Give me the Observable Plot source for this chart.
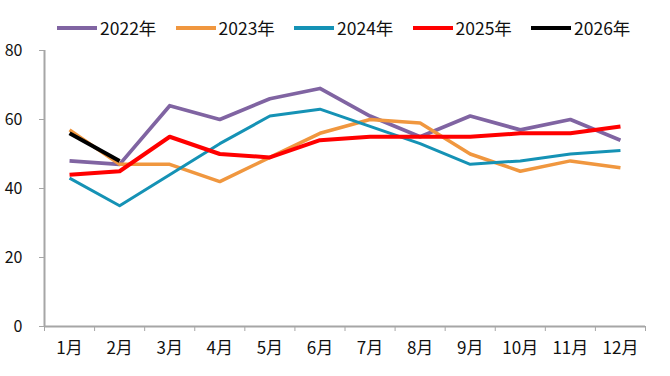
<!DOCTYPE html>
<html><head><meta charset="utf-8">
<script src="https://cdn.jsdelivr.net/npm/d3@7"></script>
<script src="https://cdn.jsdelivr.net/npm/@observablehq/plot@0.6"></script>
<style>
body{margin:0;background:#fff;font-family:"Noto Sans CJK SC",sans-serif;}
#wrap{position:relative;width:670px;height:376px;}
#legend{position:absolute;top:14px;left:57px;display:flex;align-items:center;font-size:17.5px;color:#111;line-height:28px;}
.item{display:flex;align-items:center;width:118.5px;}
.sw{width:40px;height:4px;margin-right:3px;}
svg{position:absolute;left:0;top:0;}
</style></head><body><div id="wrap"><div id="legend"></div></div>
<script>
const months = ["1月","2月","3月","4月","5月","6月","7月","8月","9月","10月","11月","12月"];
const years = ["2022年","2023年","2024年","2025年","2026年"];
const v2022 = [48, 47, 64, 60, 66, 69, 61, 55, 61, 57, 60, 54];
const v2023 = [57, 47, 47, 42, 49, 56, 60, 59, 50, 45, 48, 46];
const v2024 = [43, 35, 44, 53, 61, 63, 58, 53, 47, 48, 50, 51];
const v2025 = [44, 45, 55, 50, 49, 54, 55, 55, 55, 56, 56, 58];
const v2026 = [56, 48];
const yTicks = [0, 20, 40, 60, 80];
const colors = ["#8064A2", "#F0973F", "#1592B5", "#FF0000", "#000000"];
const widths = [3.7, 3.5, 3, 4, 4];

const series = [v2022, v2023, v2024, v2025, v2026];
const data = [];
series.forEach((vals, i) => vals.forEach((v, j) => data.push({year: years[i], m: j + 1, v})));
const centers = months.map((_, i) => i + 1);
const boundaries = months.map((_, i) => i + 0.5).concat([months.length + 0.5]);

const legend = document.getElementById("legend");
years.forEach((y, i) => {
  const it = document.createElement("div"); it.className = "item";
  const sw = document.createElement("div"); sw.className = "sw"; sw.style.background = colors[i];
  const t = document.createElement("span"); t.textContent = y;
  it.appendChild(sw); it.appendChild(t); legend.appendChild(it);
});

const chart = Plot.plot({
  width: 670, height: 376,
  marginLeft: 44, marginRight: 25, marginTop: 50, marginBottom: 50,
  style: {fontFamily: "Noto Sans CJK SC", fontSize: "16px", color: "#111", background: "transparent"},
  x: {domain: [0.5, months.length + 0.5]},
  y: {domain: [0, 80]},
  marks: [
    Plot.axisY({ticks: yTicks, tickSize: 5, tickPadding: 17, stroke: "#a6a6a6", fill: "#111", label: null}),
    Plot.axisX({ticks: boundaries, tickSize: 5, tickFormat: () => "", stroke: "#a6a6a6", label: null}),
    Plot.axisX({ticks: centers, tickSize: 0, tickPadding: 15, tickFormat: d => months[d - 1], fill: "#111", fontSize: 17, label: null}),
    Plot.ruleX([0.5], {stroke: "#a6a6a6", strokeWidth: 2}),
    Plot.ruleY([0], {stroke: "#a6a6a6", strokeWidth: 2}),
    ...years.map((y, i) => Plot.line(data.filter(d => d.year === y), {x: "m", y: "v", stroke: colors[i], strokeWidth: widths[i], strokeLinecap: "butt", strokeLinejoin: "round"}))
  ]
});
document.getElementById("wrap").insertBefore(chart, legend);
</script>
</body></html>
